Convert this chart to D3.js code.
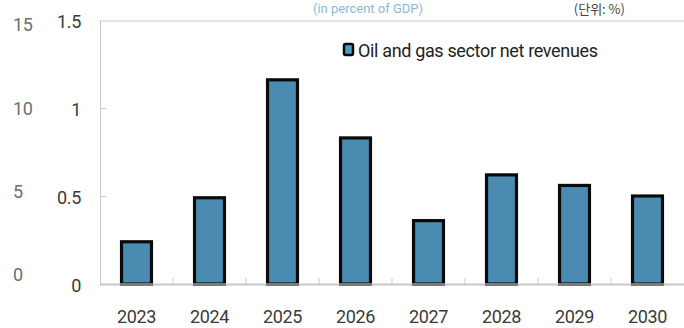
<!DOCTYPE html>
<html>
<head>
<meta charset="utf-8">
<script src="https://cdn.jsdelivr.net/npm/d3@7"></script>
<style>
  html, body { margin: 0; padding: 0; background: #fff; }
  svg { display: block; }
  text { font-family: "Roboto", "Noto Sans", sans-serif; }
</style>
</head>
<body>
<svg id="chart" width="684" height="328"></svg>
<script>
// Oil and gas sector net revenues, percent of GDP
const years = ["2023", "2024", "2025", "2026", "2027", "2028", "2029", "2030"];
const netRevenues = [0.24, 0.49, 1.16, 0.83, 0.36, 0.62, 0.56, 0.50];
const leftTicks = [0, 0.5, 1, 1.5];
const outerTicks = [0, 5, 10, 15];
const seriesName = "Oil and gas sector net revenues";
const subtitle = "(in percent of GDP)";
const unitNote = "(단위: %)";

const svg = d3.select("#chart");
const plot = { left: 100, right: 684, top: 20, bottom: 284 };

const x = d3.scaleBand().domain(years).range([plot.left, plot.right]).paddingInner(0.59).paddingOuter(0.295);
const xb = d3.scaleBand().domain(years).range([plot.left, plot.right]);
const y = d3.scaleLinear().domain([0, 1.5]).range([plot.bottom, plot.top]);
const yOuter = d3.scaleLinear().domain([0, 15]).range([275, 25]);

const axisColor = "#c8c8c8";

// header texts above the frame
svg.append("text").attr("x", 368).attr("y", 13).attr("text-anchor", "middle")
  .attr("font-size", 13).attr("fill", "#8ab8dc").text(subtitle);
svg.append("text").attr("x", 625).attr("y", 14).attr("text-anchor", "end")
  .attr("font-size", 13).attr("fill", "#444")
  .style("font-family", "'Noto Sans CJK KR', sans-serif").text(unitNote);

// top frame line
svg.append("line").attr("x1", plot.left).attr("x2", plot.right)
  .attr("y1", y(1.5) + 1).attr("y2", y(1.5) + 1)
  .attr("stroke", "#e4e4e4").attr("stroke-width", 2);

// left axis
const yAxis = d3.axisLeft(y).tickValues(leftTicks).tickSize(0).tickPadding(19)
  .tickFormat(d => d3.format("~g")(d));
const gy = svg.append("g").attr("transform", `translate(${plot.left},0)`).call(yAxis);
gy.select(".domain").attr("stroke", axisColor);
gy.selectAll(".tick text").attr("font-size", 18).attr("fill", "#3a3a3a").attr("dy", "0.42em")
  .style("font-family", "Roboto, sans-serif").attr("letter-spacing", -0.3);
gy.selectAll(".tick").filter(d => d > 0 && d < 1.5).append("line")
  .attr("x1", 0).attr("x2", 6).attr("stroke", axisColor);

// outer value column
svg.append("g").selectAll("text").data(outerTicks).join("text")
  .attr("x", 13).attr("y", d => yOuter(d)).attr("dy", "0.36em")
  .attr("font-size", 18).attr("letter-spacing", -0.3).attr("fill", "#6e6e6e").text(d => d);

// bars
svg.append("g").selectAll("rect").data(netRevenues).join("rect")
  .attr("x", (d, i) => x(years[i]))
  .attr("y", d => y(d))
  .attr("width", x.bandwidth())
  .attr("height", d => y(0) - y(d))
  .attr("fill", "#4a8cb1").attr("stroke", "#0a0a0a").attr("stroke-width", 3.2);

// baseline
svg.append("line").attr("x1", plot.left).attr("x2", plot.right)
  .attr("y1", y(0) + 0.5).attr("y2", y(0) + 0.5).attr("stroke", axisColor).attr("stroke-width", 2);
svg.append("g").selectAll("line").data(years).join("line")
  .attr("x1", d => x(d) - 1.5).attr("x2", d => x(d) + x.bandwidth() + 1.5)
  .attr("y1", y(0) + 0.5).attr("y2", y(0) + 0.5).attr("stroke", "#7a7a7a").attr("stroke-width", 3);

// category ticks at band boundaries
svg.append("g").selectAll("line").data(years.slice(1)).join("line")
  .attr("x1", d => xb(d)).attr("x2", d => xb(d))
  .attr("y1", y(0)).attr("y2", y(0) - 6).attr("stroke", axisColor);

// category labels
svg.append("g").selectAll("text").data(years).join("text")
  .attr("x", d => xb(d) + xb.bandwidth() / 2).attr("y", 317).attr("dy", "0.36em")
  .attr("text-anchor", "middle").attr("font-size", 18).attr("letter-spacing", -0.4)
  .attr("fill", "#3a3a3a").text(d => d);

// legend
const lg = svg.append("g").attr("transform", "translate(343,43)");
lg.append("rect").attr("x", 1).attr("y", 1).attr("width", 9).attr("height", 11).attr("rx", 1.5)
  .attr("fill", "#4a9cc0").attr("stroke", "#0a0a0a").attr("stroke-width", 2.5);
lg.append("text").attr("x", 15).attr("y", 13.5).attr("font-size", 18).attr("letter-spacing", -0.35)
  .attr("fill", "#222").text(seriesName);
</script>
</body>
</html>
